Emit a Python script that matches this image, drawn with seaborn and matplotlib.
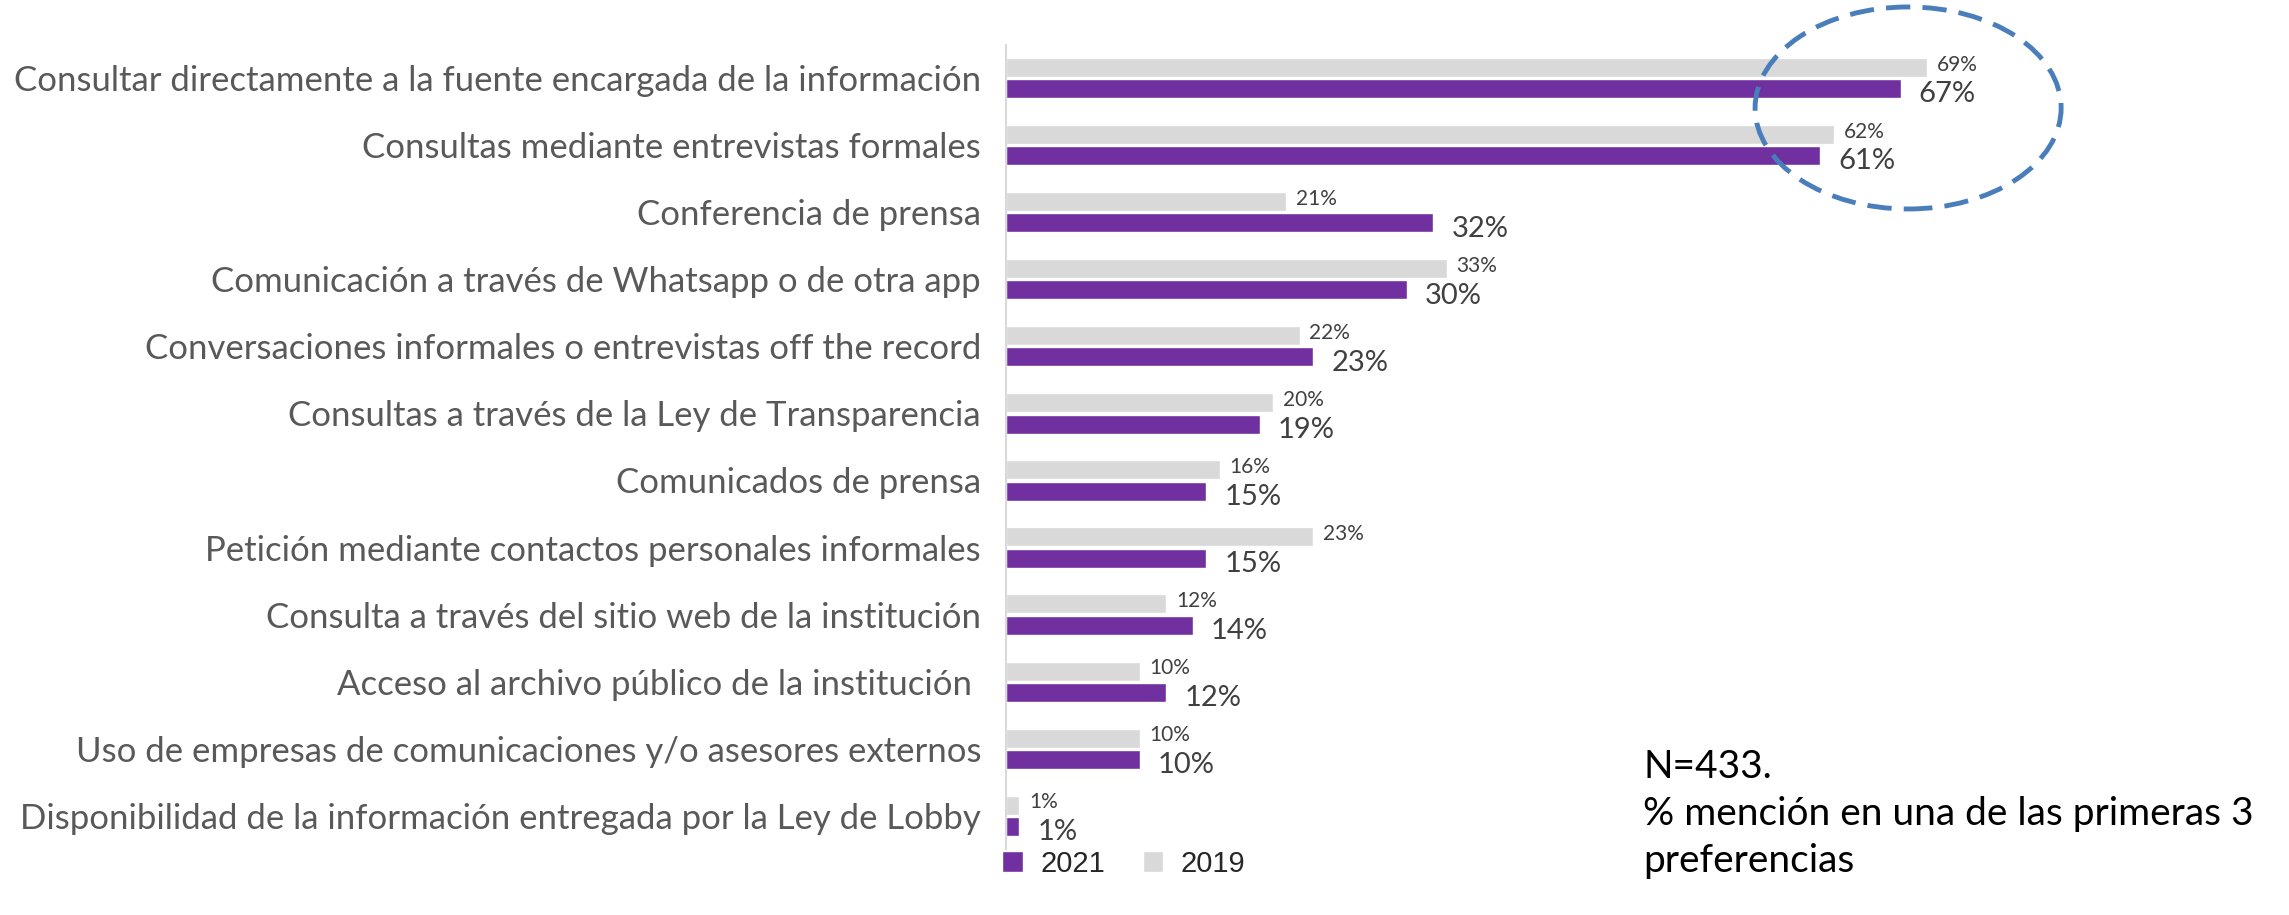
import pandas as pd
import matplotlib.pyplot as plt
import seaborn as sns
from matplotlib.patches import Ellipse, Patch

sns.set_theme(style="white")
plt.rcParams['font.family'] = ['Lato', 'DejaVu Sans']

medios = [
    "Consultar directamente a la fuente encargada de la información",
    "Consultas mediante entrevistas formales",
    "Conferencia de prensa",
    "Comunicación a través de Whatsapp o de otra app",
    "Conversaciones informales o entrevistas off the record",
    "Consultas a través de la Ley de Transparencia",
    "Comunicados de prensa",
    "Petición mediante contactos personales informales",
    "Consulta a través del sitio web de la institución",
    "Acceso al archivo público de la institución ",
    "Uso de empresas de comunicaciones y/o asesores externos",
    "Disponibilidad de la información entregada por la Ley de Lobby",
]
valores_2021 = [67, 61, 32, 30, 23, 19, 15, 15, 14, 12, 10, 1]
valores_2019 = [69, 62, 21, 33, 22, 20, 16, 23, 12, 10, 10, 1]

colores = {"2019": "#D9D9D9", "2021": "#7030A0"}

df = pd.concat([
    pd.DataFrame({"medio": medios, "valor": valores_2019, "anio": "2019"}),
    pd.DataFrame({"medio": medios, "valor": valores_2021, "anio": "2021"}),
])

fig = plt.figure(figsize=(22.89, 9.15), dpi=100)
ax = fig.add_axes([0.4395, 0.072, 0.5605, 0.879])

sns.barplot(data=df, y="medio", x="valor", hue="anio", hue_order=["2019", "2021"],
            palette=colores, orient="h", width=0.63, gap=0.1, saturation=1,
            legend=False, ax=ax)

ax.set_xlim(0, 96.1)
ax.set_ylim(11.5, -0.5)
ax.set_xlabel("")
ax.set_ylabel("")
ax.set_xticks([])
ax.tick_params(axis="y", length=0, pad=18, labelsize=25, labelcolor="#595959")
for s in ["top", "right", "bottom"]:
    ax.spines[s].set_visible(False)
ax.spines["left"].set_color("#D9D9D9")
ax.spines["left"].set_linewidth(1.5)

# etiquetas de valores
for cont, (dx, dy, fs) in zip(ax.containers, [(7, 2, 15), (13, -4, 21)]):
    for bar in cont:
        w = bar.get_width()
        yc = bar.get_y() + bar.get_height() / 2
        ax.annotate(f"{w:.0f}%", xy=(w, yc), xytext=(dx, dy), textcoords="offset points",
                    ha="left", va="center", fontsize=fs, color="#404040")

# elipse destacada
ell = Ellipse((0.8336, 0.882), 0.1337, 0.2208, transform=fig.transFigure,
              fill=False, edgecolor="#4A7EBB", linewidth=3.5, linestyle=(0, (5, 2.5)),
              clip_on=False)
fig.add_artist(ell)

fig.text(0.7178, 0.11, "N=433.\n% mención en una de las primeras 3\npreferencias",
         fontsize=28, color="black", ha="left", va="center", linespacing=1.38)

handles = [Patch(facecolor=colores["2021"], label="2021"),
           Patch(facecolor=colores["2019"], label="2019")]
fig.legend(handles=handles, loc="center", bbox_to_anchor=(0.491, 0.056), ncol=2,
           frameon=False, handlelength=0.7, handleheight=0.7, handletextpad=0.6,
           columnspacing=1.3, prop={"family": "Liberation Sans", "size": 21})

fig.savefig("out.png", dpi=100)
